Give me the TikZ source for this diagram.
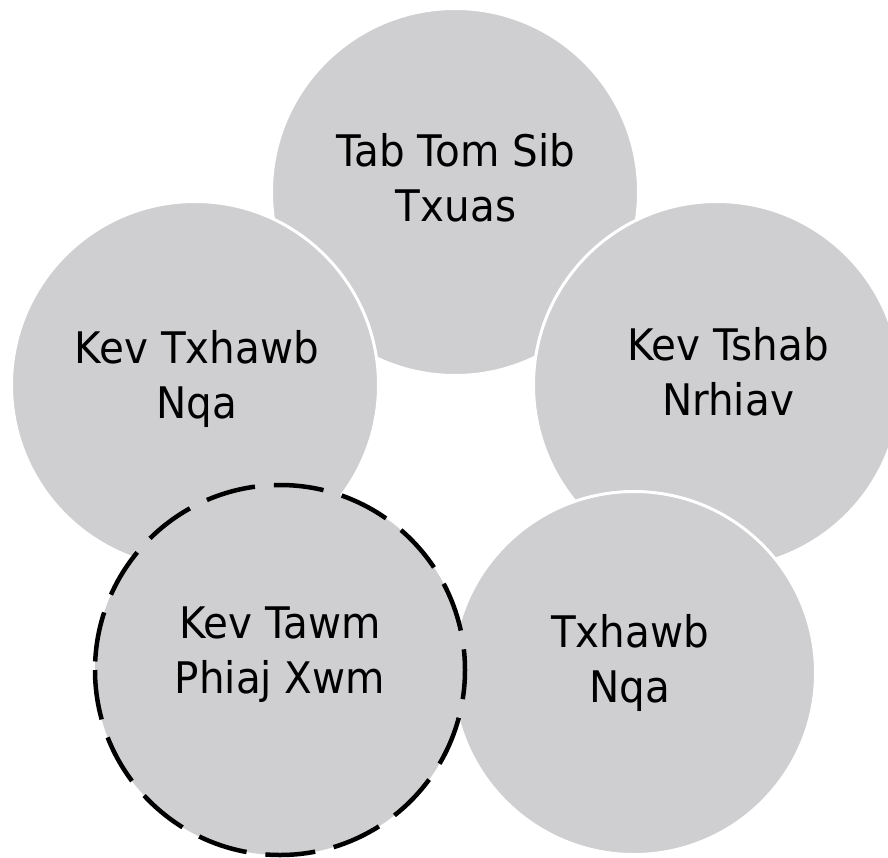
\documentclass[tikz,border=0pt]{standalone}
\usepackage{fontspec}
\setmainfont[FakeStretch=0.93]{DejaVu Sans}
\definecolor{discgray}{RGB}{207,206,208}
\begin{document}
\begin{tikzpicture}[x=1pt,y=-1pt,
  disc/.style={circle, inner sep=0pt, minimum size=#1, fill=discgray, draw=white, line width=3pt},
  filldisc/.style={circle, inner sep=0pt, minimum size=#1, fill=discgray},
  dashring/.style={draw=black, line width=4.5pt, dash pattern=on 50pt off 19pt},
  txt/.style={anchor=base, inner sep=0pt, font=\fontsize{43.5}{55}\selectfont}]
\clip (0,0) rectangle (888,857);
\fill[white] (0,0) rectangle (888,857);
\node[disc=367pt] (top) at (455,192) {};
\node[disc=367pt] (left) at (195,385) {};
\node[disc=367pt] (right) at (717,385) {};
\node[disc=363pt] (botr) at (634,673) {};
\node[filldisc=370pt] (botl) at (280,670) {};
\draw[dashring] (botl.center) ++(-185,0) arc[start angle=180, end angle=-180, radius=185];
\node[txt] (ttop) at (456,166) {\begin{tabular}[t]{@{}c@{}}Tab Tom Sib\\Txuas\end{tabular}};
\node[txt] (tleft) at (197,363) {\begin{tabular}[t]{@{}c@{}}Kev Txhawb\\Nqa\end{tabular}};
\node[txt] (tright) at (728,360) {\begin{tabular}[t]{@{}c@{}}Kev Tshab\\Nrhiav\end{tabular}};
\node[txt] (tbotl) at (280,638) {\begin{tabular}[t]{@{}c@{}}Kev Tawm\\Phiaj Xwm\end{tabular}};
\node[txt] (tbotr) at (630,647) {\begin{tabular}[t]{@{}c@{}}Txhawb\\Nqa\end{tabular}};
\end{tikzpicture}
\end{document}
